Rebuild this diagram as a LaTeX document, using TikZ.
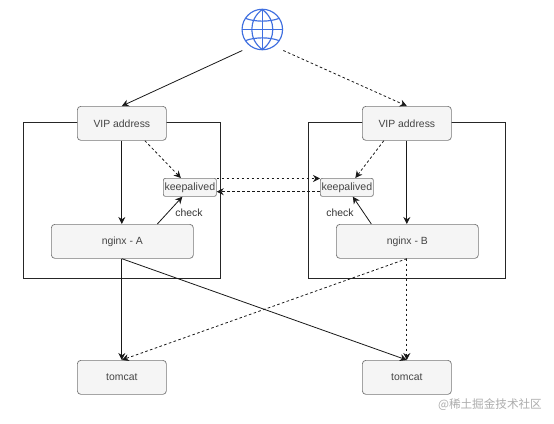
\documentclass[tikz,border=0pt]{standalone}
\usepackage{fontspec}
\setmainfont{Liberation Sans}
\newfontfamily\cjkwm{Noto Sans CJK SC}
\usetikzlibrary{arrows.meta,calc}
\definecolor{boxfill}{HTML}{F5F5F5}
\definecolor{boxline}{HTML}{777777}
\definecolor{globeblue}{HTML}{3F6FE0}
\definecolor{txt}{HTML}{444444}
\tikzset{
  x=1pt,y=-1pt,
  box/.style={draw=boxline,fill=boxfill,rounded corners=3.5pt,line width=0.7pt,inner sep=0pt,text=txt,font=\fontsize{10.4}{11}\selectfont,anchor=north west},
  keep/.style={box,fill=boxfill,rounded corners=2pt,font=\fontsize{10.6}{11}\selectfont},
  zone/.style={draw=black!85,line width=0.8pt,fill=none,inner sep=0pt,anchor=north west},
  link/.style={draw=black!90,line width=0.8pt,-{Stealth[length=7pt,width=7pt]}},
  dlink/.style={link,dash pattern=on 2.6pt off 2.4pt},
  lab/.style={font=\fontsize{10.4}{11}\selectfont,text=black!80,inner sep=0pt},
  globeline/.style={draw=globeblue,line width=1.15pt,fill=none}
}
\begin{document}
\begin{tikzpicture}
\useasboundingbox (0,0) rectangle (554,423);
\fill[white] (0,0) rectangle (554,423);
% zones
\node[zone,minimum width=197pt,minimum height=156pt] (zl) at (23,122) {};
\node[zone,minimum width=197pt,minimum height=156pt] (zr) at (308,122) {};
% boxes
\node[box,minimum width=89pt,minimum height=34pt] (vl) at (77,106) {VIP address};
\node[box,minimum width=89pt,minimum height=34pt] (vr) at (362,106) {VIP address};
\node[keep,minimum width=53pt,minimum height=18pt] (kl) at (163,178) {keepalived};
\node[keep,minimum width=53pt,minimum height=18pt] (kr) at (320,178) {keepalived};
\node[box,minimum width=142pt,minimum height=34pt] (na) at (51,224) {nginx - A};
\node[box,minimum width=142pt,minimum height=34pt] (nb) at (336,224) {nginx - B};
\node[box,minimum width=89pt,minimum height=34pt] (tl) at (77,360) {tomcat};
\node[box,minimum width=89pt,minimum height=34pt] (tr) at (362,360) {tomcat};
% globe
\node[circle,draw=globeblue,line width=1.15pt,minimum size=40.5pt,inner sep=0pt] (g) at (262.3,29.5) {};
\begin{scope}[shift={(262.3,29.5)}]
  \draw[globeline] (0,-20) -- (0,20);
  \draw[globeline] (-20,0) -- (20,0);
  \draw[globeline] (0,-20) .. controls (-14,-10) and (-14,10) .. (0,20);
  \draw[globeline] (0,-20) .. controls (14,-10) and (14,10) .. (0,20);
  \draw[globeline] (-16.5,-11) .. controls (-7,-7.5) and (7,-7.5) .. (16.5,-11);
  \draw[globeline] (-16.5,11) .. controls (-7,7.5) and (7,7.5) .. (16.5,11);
\end{scope}
% connectors
\coordinate (gl) at ($(g)+(-20,21)$);
\coordinate (gr) at ($(g)+(21,21)$);
\draw[link] (gl) -- (vl.north);
\draw[dlink] (gr) -- (vr.north);
\draw[link] (vl.south) -- (vl.south |- na.north);
\draw[link] (vr.south) -- (vr.south |- nb.north);
\draw[dlink] ($(vl.south)+(23,0)$) -- ($(kl.north)+(-9,0)$);
\draw[dlink] ($(vr.south)+(-23,0)$) -- ($(kr.north)+(8.5,0)$);
\draw[link] ($(na.north)+(35,0)$) -- ($(kl.south)+(-7.5,0)$);
\draw[link] ($(nb.north)+(-36,0)$) -- ($(kr.south)+(6,0)$);
\draw[dlink] ($(kl.north east)+(0,0.5)$) -- ($(kr.north west)+(0,0.5)$);
\draw[dlink] ($(kr.south west)+(0,-5)$) -- ($(kl.south east)+(0,-5)$);
\draw[link] (vl.south |- na.south) -- (tl.north);
\draw[link] (vl.south |- na.south) -- (tr.north);
\draw[dlink] (vr.south |- nb.south) -- (tl.north);
\draw[dlink] (vr.south |- nb.south) -- (tr.north);
% labels
\node[lab] (cl) at (189,213) {check};
\node[lab] (cr) at (340,213) {check};
\node[inner sep=0pt,text=black!32,font=\cjkwm\fontsize{11.6}{13}\selectfont,anchor=east] (wm) at (542,405) {@稀土掘金技术社区};
\end{tikzpicture}
\end{document}
